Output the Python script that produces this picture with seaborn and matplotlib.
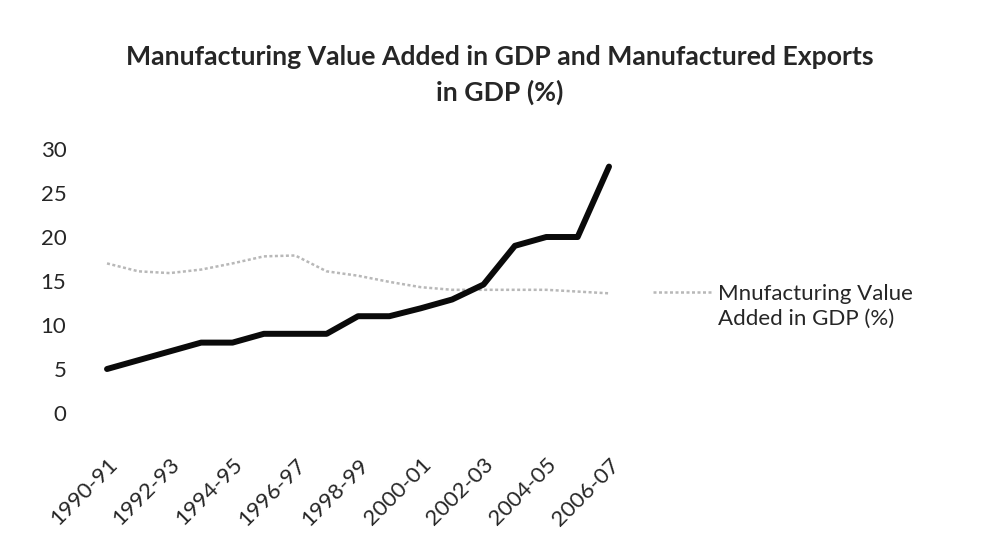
import matplotlib
matplotlib.use("Agg")
import matplotlib.pyplot as plt
import seaborn as sns
import pandas as pd

years = ["1990-91", "1991-92", "1992-93", "1993-94", "1994-95", "1995-96",
         "1996-97", "1997-98", "1998-99", "1999-00", "2000-01", "2001-02",
         "2002-03", "2003-04", "2004-05", "2005-06", "2006-07"]
exports = [5, 6, 7, 8, 8, 9, 9, 9, 11, 11, 11.9, 12.9, 14.6, 19, 20, 20, 28]
value_added = [17.0, 16.1, 15.9, 16.3, 17.0, 17.8, 17.9, 16.1, 15.6, 14.9,
               14.3, 14.0, 14.0, 14.0, 14.0, 13.8, 13.6]
yticks = [0, 5, 10, 15, 20, 25, 30]
title = "Manufacturing Value Added in GDP and Manufactured Exports\nin GDP (%)"
legend_label = "Mnufacturing Value\nAdded in GDP (%)"

df = pd.DataFrame({"year": years, "exports": exports, "va": value_added})

sns.set_style("white")
plt.rcParams["font.family"] = ["Lato", "DejaVu Sans"]

fig = plt.figure(figsize=(9.81, 5.57), dpi=100)
ax = fig.add_axes([0.0931, 0.2585, 0.5437, 0.474])

sns.lineplot(data=df, x="year", y="va", ax=ax, color="#b8b8b8", linewidth=1.8,
             linestyle=(0, (1.2, 1.0)), label=legend_label, sort=False)
sns.lineplot(data=df, x="year", y="exports", ax=ax, color="#0a0a0a", linewidth=4.3,
             legend=False, sort=False)

ax.set_xlim(-0.5, len(years) - 0.5)
ax.set_ylim(0, 30)
ax.set_yticks(yticks)
ax.set_yticklabels([str(v) for v in yticks], fontsize=16)
ax.set_xticks(range(0, len(years), 2))
ax.set_xticklabels(years[::2], rotation=45, ha="right", va="top",
                   rotation_mode="anchor", fontsize=16)
ax.tick_params(axis="x", length=0, pad=30)
ax.tick_params(axis="y", length=0, pad=18)
ax.set_xlabel("")
ax.set_ylabel("")
for s in ax.spines.values():
    s.set_visible(False)
ax.grid(False)

leg = ax.legend(loc="upper left", bbox_to_anchor=(653 / 981, 1 - 284 / 557),
                bbox_transform=fig.transFigure, frameon=False, fontsize=16,
                handlelength=2.65, handletextpad=0.27, borderpad=0, borderaxespad=0)
for t in leg.get_texts():
    t.set_linespacing(1.3)
# align handle with the first text line
for col in leg._legend_handle_box.get_children():
    for item in col.get_children():
        item.align = "top"

fig.text(0.509, 1 - 75 / 557, title, ha="center", va="center", fontsize=19.2,
         fontweight="bold", linespacing=1.5)

fig.savefig("out.png", dpi=100, facecolor="white")
